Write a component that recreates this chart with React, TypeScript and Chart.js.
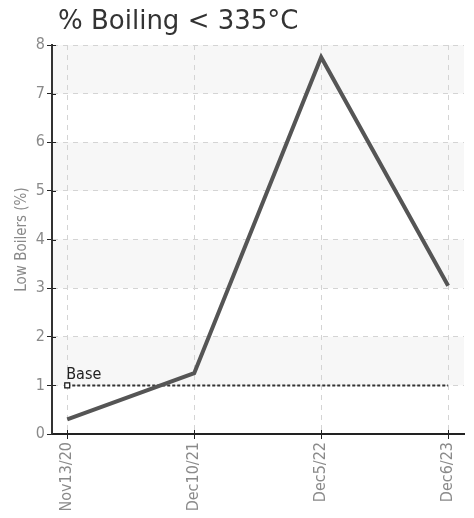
import React, { useEffect, useRef } from "react";
import { Chart, registerables } from "chart.js";

Chart.register(...registerables);

const categories = ["Nov13/20", "Dec10/21", "Dec5/22", "Dec6/23"];
const boilingValues = [0.3, 1.25, 7.75, 3.05];
const baseValues = [1, 1, 1, 1];
const yTicks = [0, 1, 2, 3, 4, 5, 6, 7, 8];
const titleText = "% Boiling < 335\u00B0C";
const yTitle = "Low Boilers (%)";
const baseLabel = "Base";

const NARROW = "'Liberation Sans Narrow', 'DejaVu Sans Condensed', 'Roboto Condensed', Roboto, sans-serif";

export default function App() {
  const ref = useRef<HTMLCanvasElement | null>(null);

  useEffect(() => {
    if (!ref.current) return;

    const bandPlugin = {
      id: "bands",
      beforeDraw(chart: any) {
        const { ctx, chartArea, scales } = chart;
        const y = scales.y;
        ctx.save();
        ctx.fillStyle = "#f7f7f7";
        for (let i = 0; i < yTicks.length - 1; i++) {
          if (yTicks[i] % 2 === 1) {
            const top = y.getPixelForValue(yTicks[i + 1]);
            const bot = y.getPixelForValue(yTicks[i]);
            ctx.fillRect(chartArea.left, top, chartArea.right - chartArea.left, bot - top);
          }
        }
        ctx.restore();
      },
    };

    const textPlugin = {
      id: "texts",
      afterDraw(chart: any) {
        const { ctx, scales, chartArea } = chart;
        ctx.save();
        // inner tick marks crossing the axes
        ctx.strokeStyle = "#222";
        ctx.lineWidth = 1;
        ctx.beginPath();
        categories.forEach((_, i) => {
          const px = Math.round(scales.x.getPixelForValue(i)) + 0.5;
          ctx.moveTo(px, chartArea.bottom);
          ctx.lineTo(px, chartArea.bottom - 4);
        });
        yTicks.forEach((v) => {
          const py = Math.round(scales.y.getPixelForValue(v)) + 0.5;
          ctx.moveTo(chartArea.left, py);
          ctx.lineTo(chartArea.left + 4, py);
        });
        ctx.stroke();

        ctx.fillStyle = "#333";
        ctx.font = "26px 'DejaVu Sans', sans-serif";
        ctx.textAlign = "left";
        ctx.textBaseline = "alphabetic";
        ctx.fillText(titleText, 58, 29);
        const bx = scales.x.getPixelForValue(0);
        const by = scales.y.getPixelForValue(baseValues[0]);
        ctx.fillStyle = "#222";
        ctx.font = "16px " + NARROW;
        ctx.fillText(baseLabel, bx - 1, by - 6);
        ctx.restore();
      },
    };

    const chart = new Chart(ref.current, {
      type: "line",
      data: {
        datasets: [
          {
            label: "Boiling",
            data: boilingValues.map((v, i) => ({ x: i, y: v })),
            borderColor: "#555555",
            borderWidth: 4,
            pointRadius: 0,
            tension: 0,
          },
          {
            label: "Base",
            data: baseValues.map((v, i) => ({ x: i, y: v })),
            borderColor: "#333",
            borderWidth: 2,
            borderDash: [3, 2],
            pointRadius: baseValues.map((_, i) => (i === 0 ? 3.5 : 0)),
            pointStyle: "rect",
            pointBackgroundColor: "#fff",
            pointBorderColor: "#111",
            pointBorderWidth: 1.2,
            tension: 0,
          },
        ],
      },
      options: {
        animation: false,
        responsive: false,
        devicePixelRatio: 1,
        layout: { padding: { top: 45, right: 10, left: 0, bottom: 0 } },
        plugins: {
          legend: { display: false },
          tooltip: { enabled: false },
          title: { display: false },
        },
        scales: {
          x: {
            type: "linear",
            min: -0.12,
            max: 3.125,
            afterBuildTicks: (scale: any) => {
              scale.ticks = categories.map((_, i) => ({ value: i }));
            },
            afterFit: (scale: any) => {
              scale.height = 84;
            },
            ticks: {
              callback: (v: any) => categories[Math.round(Number(v))] ?? "",
              color: "#8a8a8a",
              font: { family: NARROW, size: 16 },
              maxRotation: 90,
              minRotation: 90,
              padding: 3,
              autoSkip: false,
            },
            grid: {
              color: "#d4d4d4",
              tickColor: "#222",
              tickLength: 5,
              lineWidth: 1,
            },
            border: { display: true, color: "#222", width: 2, dash: [5, 5] },
          },
          y: {
            min: 0,
            max: 8,
            afterBuildTicks: (scale: any) => {
              scale.ticks = yTicks.map((v) => ({ value: v }));
            },
            afterFit: (scale: any) => {
              scale.width = 52;
            },
            ticks: {
              color: "#8a8a8a",
              font: { family: NARROW, size: 16 },
              padding: 2,
            },
            title: {
              display: true,
              text: yTitle,
              color: "#8a8a8a",
              font: { family: NARROW, size: 15 },
              padding: { top: 13, bottom: 0 },
            },
            grid: {
              color: "#d4d4d4",
              tickColor: "#222",
              tickLength: 5,
              lineWidth: 1,
            },
            border: { display: true, color: "#333", width: 2, dash: [5, 5] },
          },
        },
      },
      plugins: [bandPlugin, textPlugin],
    } as any);

    return () => chart.destroy();
  }, []);

  return (
    <div style={{ position: "absolute", left: 0, top: 0, width: 474, height: 518, background: "#fff" }}>
      <canvas ref={ref} width={474} height={518} style={{ display: "block" }} />
    </div>
  );
}
